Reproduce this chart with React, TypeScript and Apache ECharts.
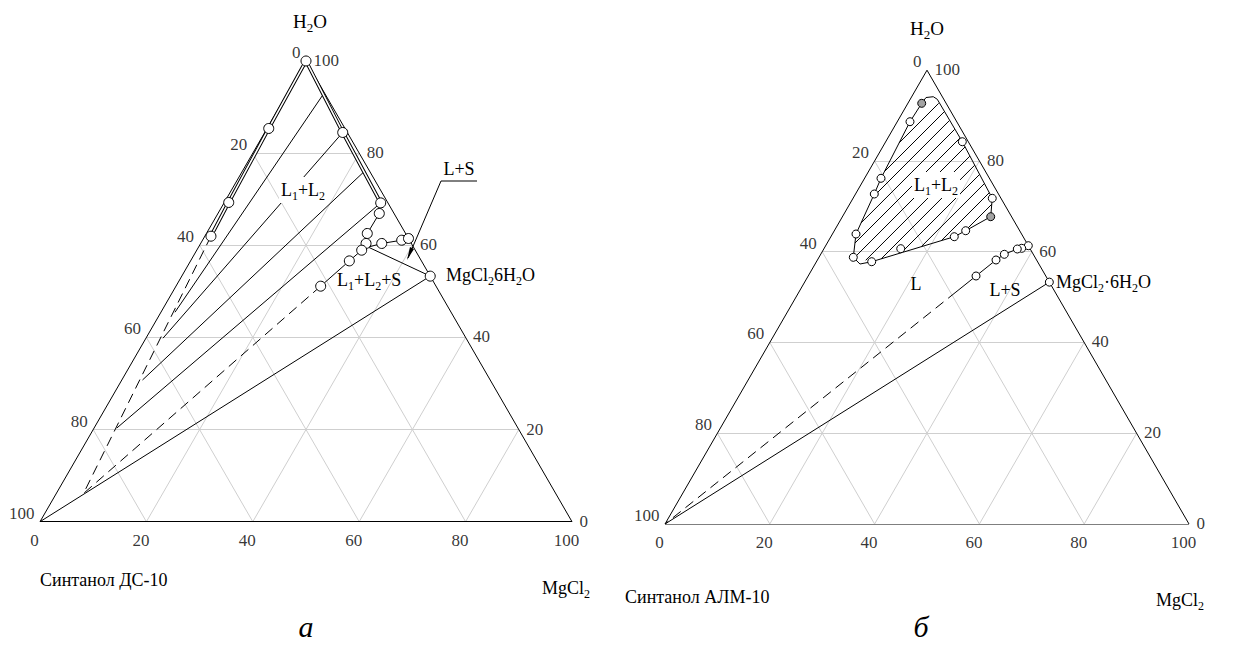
import React, { useEffect, useRef } from "react";
import * as echarts from "echarts";

const FONT = "Liberation Serif, DejaVu Serif";

// ---------- axes (mass %) ----------
const TICK_VALUES = [0, 20, 40, 60, 80, 100];
const GRID_VALUES = [20, 40, 60, 80];

// compositions are [H2O %, MgCl2 %]; Синтанол = 100 - H2O - MgCl2
const HYDRATE = [53.3, 46.7]; // MgCl2·6H2O
const SURFACTANT = [0, 0]; // 100 % Синтанол

// ---------- diagram a: Синтанол ДС-10 ----------
const A_LEFT_DOUBLE = [[100, 0], [85.35, 0.32], [69.29, 0.83], [61.97, 1.15]];
const A_LEFT_DASHED = [[61.97, 1.15], [6.1, 5.11]];
const A_RIGHT_DOUBLE = [[100, 0], [84.48, 14.66], [69.2, 29.44]];
const A_RIGHT_CURVE = [[69.2, 29.44], [66.9, 30.33], [62.56, 30.24], [60.39, 31.09], [58.93, 31.0], [56.61, 29.84], [51.12, 27.2]];
const A_RIGHT_DASHED = [[51.12, 27.2], [6.1, 5.11]];
const A_JUNCTION = [59.6, 31.9];
const A_SOLUBILITY = [A_JUNCTION, [60.39, 34.04], [61.1, 37.44], [61.47, 38.53]];
const A_TIE_LINES = [
  [[92.51, 6.84], [45.47, 2.64]],
  [[84.48, 14.66], [39.83, 3.2]],
  [[75.8, 22.85], [30.76, 3.89]],
  [[69.2, 29.44], [20.34, 4.28]],
];
const A_POINTS = [
  [100, 0], [85.35, 0.32], [69.29, 0.83], [61.97, 1.15],
  [84.48, 14.66], [69.2, 29.44], [66.9, 30.33], [62.56, 30.24], [60.39, 31.09],
  [58.93, 31.0], [56.61, 29.84], [51.12, 27.2],
  [60.39, 34.04], [61.1, 37.44], [61.47, 38.53], HYDRATE,
];

// ---------- diagram б: Синтанол АЛМ-10 ----------
const B_BINODAL = [
  [92.7, 2.64], [88.65, 2.43], [76.18, 3.13], [72.72, 3.58], [63.9, 4.5], [58.77, 6.55],
  [57.29, 8.56], [57.8, 10.55], [63.31, 23.55], [64.63, 25.07], [67.72, 28.3], [71.77, 26.57],
  [84.24, 14.62], [93.59, 5.17], [94.16, 4.12], [93.98, 2.82], [92.7, 2.64],
];
const B_WHITE_POINTS = [
  [88.65, 2.43], [76.18, 3.13], [72.72, 3.58], [63.9, 4.5], [58.77, 6.55], [57.8, 10.55],
  [60.67, 14.65], [63.31, 23.55], [64.63, 25.07], [71.77, 26.57], [84.24, 14.62],
];
const B_GREY_POINTS = [[92.7, 2.64], [67.72, 28.3]];
const B_SOLUBILITY = [[61.33, 38.67], [60.75, 37.7], [60.6, 36.93], [59.43, 35.04], [58.18, 34.08], [54.65, 32.03], [51.12, 29.97]];
const B_SOLUBILITY_POINTS = [[61.33, 38.67], [60.75, 37.7], [60.6, 36.93], [59.43, 35.04], [58.18, 34.08], [54.65, 32.03]];
const B_DASHED = [[51.12, 29.97], SURFACTANT];
const B_TIE_LINES = [
  [[84.0, 2.69], [92.71, 5.88]],
  [[77.68, 3.05], [90.79, 7.85]],
  [[72.04, 3.66], [88.89, 9.82]],
  [[66.35, 4.24], [86.98, 11.8]],
  [[61.92, 5.3], [85.06, 13.77]],
  [[58.7, 6.8], [83.1, 15.72]],
  [[58.11, 9.24], [81.07, 17.65]],
  [[58.44, 12.04], [79.07, 19.58]],
  [[59.76, 15.2], [77.04, 21.52]],
  [[61.11, 18.35], [75.03, 23.45]],
  [[62.45, 21.52], [73.01, 25.39]],
  [[64.54, 24.96], [70.47, 27.13]],
];

const SQ = Math.sqrt(3) / 2;
const BOXES = [
  { left: 40, bottom: 521.7, width: 532 },
  { left: 665, bottom: 524, width: 524 },
];

const toXY = (p: number[]) => [p[1] + p[0] / 2, p[0]];

function edgeLabels(gi: number) {
  const ax = { xAxisIndex: gi, yAxisIndex: gi };
  const base = {
    type: "scatter", ...ax, symbolSize: 1, silent: true, z: 20,
    itemStyle: { color: "rgba(0,0,0,0)" },
  };
  const lbl = { show: true, formatter: "{b}", fontFamily: FONT, fontSize: 17, color: "#000" };
  return [
    {
      ...base,
      data: TICK_VALUES.map((v) => ({ value: toXY([100 - v, 0]), name: String(v) })),
      label: { ...lbl, position: [-5, -8], align: "right", verticalAlign: "middle" },
    },
    {
      ...base,
      data: TICK_VALUES.map((v) => ({ value: toXY([v, 100 - v]), name: String(v) })),
      label: { ...lbl, position: [8, 0], align: "left", verticalAlign: "middle" },
    },
    {
      ...base,
      data: TICK_VALUES.map((v) => ({ value: toXY([0, v]), name: String(v) })),
      label: { ...lbl, position: [-5, 19], align: "center", verticalAlign: "middle" },
    },
  ];
}

function frameSeries(gi: number) {
  const ax = { xAxisIndex: gi, yAxisIndex: gi };
  const segs: number[][][] = [];
  GRID_VALUES.forEach((v) => {
    segs.push([[v, 0], [v, 100 - v]]);
    segs.push([[0, v], [100 - v, v]]);
    segs.push([[0, 100 - v], [100 - v, 0]]);
  });
  const edges = [
    [[0, 0], [0, 100]],
    [[0, 100], [100, 0]],
    [[100, 0], [0, 0]],
  ];
  return [
    {
      type: "lines", coordinateSystem: "cartesian2d", ...ax, silent: true, z: 1,
      lineStyle: { color: "#cfcfcf", width: 1, opacity: 1 },
      data: segs.map((s) => ({ coords: s.map(toXY) })),
    },
    {
      type: "lines", coordinateSystem: "cartesian2d", ...ax, silent: true, z: 3,
      lineStyle: { color: "#000", width: 1, opacity: 1 },
      data: edges.map((s) => ({ coords: s.map(toXY) })),
    },
    ...edgeLabels(gi),
  ];
}

function curve(gi: number, data: number[][], style: any, z = 5) {
  return {
    type: "line", xAxisIndex: gi, yAxisIndex: gi, data: data.map(toXY), symbol: "none",
    silent: true, z, lineStyle: { color: "#000", width: 1, ...style },
  };
}

function segments(gi: number, segs: number[][][], style: any, z = 4) {
  return {
    type: "lines", coordinateSystem: "cartesian2d", xAxisIndex: gi, yAxisIndex: gi, silent: true, z,
    lineStyle: { color: "#000", width: 1, opacity: 1, ...style },
    data: segs.map((s) => ({ coords: s.map(toXY) })),
  };
}

function markers(gi: number, pts: number[][], size: number, fill: string) {
  return {
    type: "scatter", xAxisIndex: gi, yAxisIndex: gi, data: pts.map(toXY), symbol: "circle",
    symbolSize: size, silent: true, z: 10,
    itemStyle: { color: fill, borderColor: "#000", borderWidth: 1, opacity: 1 },
  };
}

const DASH = [10, 6];

function buildOption() {
  const grids = BOXES.map((b) => ({
    left: b.left, top: b.bottom - b.width * SQ, width: b.width, height: b.width * SQ,
    outerBoundsMode: "none", containLabel: false,
  }));
  const xAxis = BOXES.map((_, i) => ({ type: "value", gridIndex: i, min: 0, max: 100, show: false }));
  const yAxis = BOXES.map((_, i) => ({ type: "value", gridIndex: i, min: 0, max: 100, show: false }));

  const series: any[] = [
    ...frameSeries(0),
    curve(0, A_LEFT_DOUBLE, { width: 3.6 }, 5),
    curve(0, A_LEFT_DOUBLE, { width: 1.6, color: "#fff" }, 6),
    curve(0, A_RIGHT_DOUBLE, { width: 3.6 }, 5),
    curve(0, A_RIGHT_DOUBLE, { width: 1.6, color: "#fff" }, 6),
    curve(0, A_LEFT_DASHED, { type: DASH }),
    curve(0, A_RIGHT_CURVE, {}),
    curve(0, A_RIGHT_DASHED, { type: DASH }),
    curve(0, A_SOLUBILITY, {}),
    curve(0, [A_JUNCTION, HYDRATE], {}),
    curve(0, [HYDRATE, SURFACTANT], {}),
    segments(0, A_TIE_LINES, {}),
    markers(0, A_POINTS, 10, "#fff"),

    ...frameSeries(1),
    segments(1, B_TIE_LINES, {}),
    curve(1, B_BINODAL, {}),
    curve(1, B_SOLUBILITY, {}),
    curve(1, B_DASHED, { type: DASH }),
    curve(1, [HYDRATE, SURFACTANT], {}),
    markers(1, B_WHITE_POINTS, 8, "#fff"),
    markers(1, B_GREY_POINTS, 8, "#a3a3a3"),
    markers(1, B_SOLUBILITY_POINTS, 8, "#fff"),
    markers(1, [HYDRATE], 8, "#fff"),
  ];

  const rich = (size: number) => ({
    n: { fontFamily: FONT, fontSize: size, lineHeight: size + 6, fill: "#000" },
    s: { fontFamily: FONT, fontSize: Math.round(size * 0.68), lineHeight: 10, verticalAlign: "bottom", fill: "#000" },
  });
  const txt = (x: number, y: number, text: string, size: number, align = "center", extra: any = {}) => ({
    type: "text", x, y, z: 100,
    style: {
      text, rich: rich(size), fontFamily: FONT, fontSize: size, fill: "#000",
      align, verticalAlign: "middle", ...extra,
    },
  });

  const graphic: any[] = [
    // diagram a
    txt(310, 21, "{n|H}{s|2}{n|O}", 19),
    txt(303, 190, "{n|L}{s|1}{n|+L}{s|2}", 18, "center", { backgroundColor: "#fff", padding: [1, 2, 1, 2] }),
    txt(337, 280, "{n|L}{s|1}{n|+L}{s|2}{n|+S}", 18, "left"),
    txt(459, 169, "{n|L+S}", 18),
    txt(446, 275, "{n|MgCl}{s|2}{n|6H}{s|2}{n|O}", 18, "left"),
    txt(40, 580, "{n|Синтанол ДС-10}", 18, "left"),
    txt(566, 588, "{n|MgCl}{s|2}", 18),
    txt(306, 626, "a", 30, "center", { fontStyle: "italic" }),
    {
      type: "polyline", z: 50,
      shape: { points: [[477, 181], [441, 181], [408, 258]] },
      style: { stroke: "#000", lineWidth: 1, fill: null },
    },
    {
      type: "polygon", z: 50,
      shape: { points: [[407, 260], [410, 247], [414, 249]] },
      style: { fill: "#000" },
    },
    // diagram б
    txt(927, 28, "{n|H}{s|2}{n|O}", 19),
    txt(936, 185, "{n|L}{s|1}{n|+L}{s|2}", 18, "center", { backgroundColor: "#fff", padding: [1, 2, 1, 2] }),
    txt(916, 284, "{n|L}", 18),
    txt(1005, 290, "{n|L+S}", 18),
    txt(1056, 282, "{n|MgCl}{s|2}{n|·6H}{s|2}{n|O}", 18, "left"),
    txt(625, 597, "{n|Синтанол АЛМ-10}", 18, "left"),
    txt(1180, 600, "{n|MgCl}{s|2}", 18),
    txt(921, 626, "б", 30, "center", { fontStyle: "italic" }),
  ];

  return {
    animation: false,
    backgroundColor: "#fff",
    grid: grids,
    xAxis,
    yAxis,
    series,
    graphic,
  };
}

export default function App() {
  const ref = useRef<HTMLDivElement>(null);
  useEffect(() => {
    if (!ref.current) return;
    const chart = echarts.init(ref.current, null, { renderer: "svg" });
    chart.setOption(buildOption() as any);
    return () => chart.dispose();
  }, []);
  return (
    <div
      ref={ref}
      style={{ position: "absolute", left: 0, top: 0, width: 1239, height: 647, background: "#fff" }}
    />
  );
}
